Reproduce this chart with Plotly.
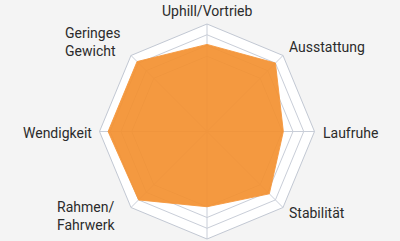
import math
import plotly.graph_objects as go

# Rating categories, clockwise from the top (bottom axis is left unlabelled)
categories = [
    "Uphill/Vortrieb",
    "Ausstattung",
    "Laufruhe",
    "Stabilität",
    " ",
    "Rahmen/<br>Fahrwerk",
    "Wendigkeit",
    "Geringes<br>Gewicht",
]
scores = [8.1, 9.0, 7.1, 8.2, 7.0, 9.0, 9.2, 9.2]
ring_values = [7, 8, 9, 10]

W, H = 400, 241
M = dict(l=59, r=45, t=24, b=2)
plot_w = W - M["l"] - M["r"]
plot_h = H - M["t"] - M["b"]
radius = min(plot_w, plot_h) / 2          # polar subplot radius in px
label_gap = 6                             # distance of labels beyond the outer ring
# small per-label pixel nudges (xshift, yshift) for the label layout
label_nudge = [(0, -3), (0, 4), (0, -1), (0, -1), (0, 0), (-10, -4), (0, -1), (-5, 9)]

fig = go.Figure()
fig.add_trace(go.Scatterpolar(
    r=scores + scores[:1],
    theta=categories + categories[:1],
    mode="lines",
    fill="toself",
    fillcolor="rgba(243,144,48,0.92)",
    line=dict(color="rgba(245,152,62,0.9)", width=1),
    hoverinfo="skip",
))

# Category labels placed around the octagon (left-aligned for two-line labels)
annotations = []
n = len(categories)
for i, name in enumerate(categories):
    if not name.strip():
        continue
    ang = math.radians(90 - 360 * i / n)
    c, s = math.cos(ang), math.sin(ang)
    dist = radius + label_gap
    x = 0.5 + dist * c / plot_w
    y = 0.5 + dist * s / plot_h
    xanchor = "left" if c > 0.2 else ("right" if c < -0.2 else "center")
    yanchor = "bottom" if s > 0.9 else "middle"
    dx, dy = label_nudge[i]
    annotations.append(dict(
        x=x, y=y, xref="paper", yref="paper",
        xshift=dx, yshift=dy,
        text=name, showarrow=False,
        xanchor=xanchor, yanchor=yanchor, align="left",
        font=dict(family="Roboto", size=14, color="#2b2b2b"),
    ))

fig.update_layout(
    width=W,
    height=H,
    margin=M,
    paper_bgcolor="#f4f4f4",
    showlegend=False,
    font=dict(family="Roboto", size=14, color="#2b2b2b"),
    annotations=annotations,
    polar=dict(
        bgcolor="white",
        gridshape="linear",
        radialaxis=dict(
            range=[0, 10],
            tickvals=ring_values,
            showticklabels=False,
            ticks="",
            showline=False,
            gridcolor="#c9ced8",
            gridwidth=1,
        ),
        angularaxis=dict(
            rotation=90,
            direction="clockwise",
            showticklabels=False,
            ticks="",
            showline=True,
            linecolor="#c2c8d3",
            linewidth=1,
            gridcolor="#c9ced8",
            gridwidth=1,
        ),
    ),
)

fig.write_html("out.html")
